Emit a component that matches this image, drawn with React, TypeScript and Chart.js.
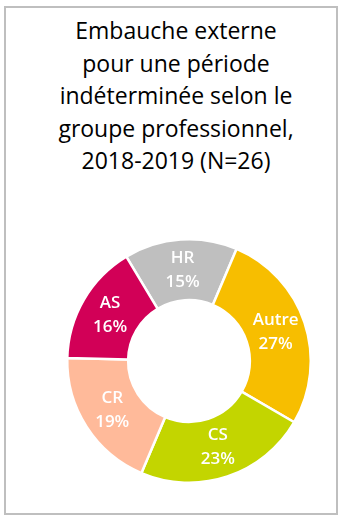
import React, { useEffect, useRef } from "react";
import { Chart, registerables } from "chart.js";

Chart.register(...registerables);

const titleLines = [
  "Embauche externe",
  "pour une période",
  "indéterminée selon le",
  "groupe professionnel,",
  "2018-2019 (N=26)",
];
const categories = ["HR", "Autre", "CS", "CR", "AS"];
const shares = [15, 27, 23, 19, 16];
const colors = ["#BFBFBF", "#F7BE00", "#C3D500", "#FFBA9A", "#D20057"];

const FONT = "'Open Sans', 'Noto Sans', sans-serif";

const labelPlugin = {
  id: "sliceLabels",
  afterDatasetsDraw(chart: any) {
    const ctx = chart.ctx;
    const meta = chart.getDatasetMeta(0);
    ctx.save();
    ctx.fillStyle = "#FFFFFF";
    ctx.textAlign = "center";
    ctx.textBaseline = "middle";
    ctx.font = `600 17px ${FONT}`;
    meta.data.forEach((arc: any, i: number) => {
      const p = arc.tooltipPosition();
      ctx.fillText(categories[i], p.x, p.y - 12);
      ctx.fillText(`${shares[i]}%`, p.x, p.y + 12);
    });
    ctx.restore();
  },
};

export default function App() {
  const ref = useRef<HTMLCanvasElement | null>(null);

  useEffect(() => {
    if (!ref.current) return;
    const chart = new Chart(ref.current, {
      type: "doughnut",
      data: {
        labels: categories,
        datasets: [
          {
            data: shares,
            backgroundColor: colors,
            borderColor: "#FFFFFF",
            borderWidth: 2.5,
          },
        ],
      },
      options: {
        animation: false,
        responsive: false,
        rotation: -31,
        cutout: "50%",
        layout: { padding: 27 },
        plugins: {
          legend: { display: false },
          tooltip: { enabled: false },
          title: { display: false },
        },
      },
      plugins: [labelPlugin],
    });
    return () => chart.destroy();
  }, []);

  return (
    <div
      style={{
        position: "absolute",
        left: 0,
        top: 0,
        width: 346,
        height: 521,
        background: "#FFFFFF",
        overflow: "hidden",
      }}
    >
      <div
        style={{
          position: "absolute",
          left: 4,
          top: 6,
          width: 334,
          height: 509,
          boxSizing: "border-box",
          border: "2px solid #BFBFBF",
        }}
      />
      <div
        style={{
          position: "absolute",
          left: 26,
          top: 14,
          width: 300,
          textAlign: "center",
          fontFamily: FONT,
          fontSize: 23,
          lineHeight: "32.6px",
          color: "#000000",
          whiteSpace: "nowrap",
        }}
      >
        {titleLines.map((t, i) => (
          <div key={i}>{t}</div>
        ))}
      </div>
      <canvas
        ref={ref}
        width={300}
        height={300}
        style={{ position: "absolute", left: 39, top: 211, width: 300, height: 300 }}
      />
    </div>
  );
}
